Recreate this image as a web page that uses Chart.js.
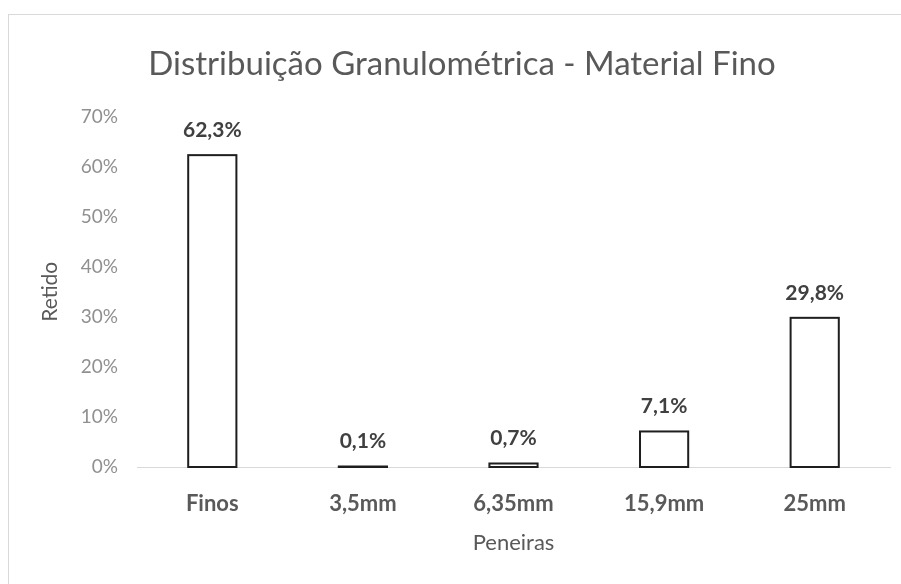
<!DOCTYPE html>
<html>
<head>
<meta charset="utf-8">
<script src="https://cdn.jsdelivr.net/npm/chart.js@4"></script>
<style>
  html, body { margin: 0; padding: 0; background: #fff; overflow: hidden; }
  #wrap { position: relative; width: 901px; height: 584px; overflow: hidden; }
  #frame {
    position: absolute; left: 8px; top: 14px; right: -20px; bottom: -20px;
    border-left: 1px solid #d9d9d9; border-top: 1px solid #d9d9d9;
  }
  canvas { position: absolute; left: 0; top: 0; }
</style>
</head>
<body>
<div id="wrap">
  <div id="frame"></div>
  <canvas id="chart" width="901" height="584"></canvas>
</div>
<script>
const peneiras = ['Finos', '3,5mm', '6,35mm', '15,9mm', '25mm'];
const retido = [62.3, 0.1, 0.7, 7.1, 29.8];
const yTicks = [0, 10, 20, 30, 40, 50, 60, 70];

const FONT = 'Lato, "Open Sans", sans-serif';

// outline each bar centred on its edge, so even tiny bars show as a dark line
const barOutline = {
  id: 'barOutline',
  afterDatasetsDraw(chart) {
    const ctx = chart.ctx;
    const meta = chart.getDatasetMeta(0);
    ctx.save();
    ctx.strokeStyle = '#1e1e1e';
    ctx.lineWidth = 2;
    meta.data.forEach(bar => {
      const w = bar.width;
      ctx.strokeRect(bar.x - w / 2, bar.y, w, bar.base - bar.y);
    });
    ctx.restore();
  }
};

// value labels above each bar, decimal comma
const valueLabels = {
  id: 'valueLabels',
  afterDatasetsDraw(chart) {
    const ctx = chart.ctx;
    const meta = chart.getDatasetMeta(0);
    ctx.save();
    ctx.font = 'bold 21px ' + FONT;
    ctx.fillStyle = '#404040';
    ctx.textAlign = 'center';
    ctx.textBaseline = 'middle';
    meta.data.forEach((bar, i) => {
      const txt = retido[i].toFixed(1).replace('.', ',') + '%';
      ctx.fillText(txt, bar.x, bar.y - 25);
    });
    ctx.restore();
  }
};

new Chart(document.getElementById('chart'), {
  type: 'bar',
  data: {
    labels: peneiras,
    datasets: [{
      data: retido,
      backgroundColor: '#ffffff',
      borderWidth: 0,
      categoryPercentage: 1,
      barPercentage: 0.32
    }]
  },
  options: {
    responsive: false,
    animation: false,
    layout: { padding: { left: 34, right: 11, top: 40, bottom: 0 } },
    plugins: {
      legend: { display: false },
      tooltip: { enabled: false },
      title: {
        display: true,
        text: 'Distribuição Granulométrica - Material Fino',
        color: '#595959',
        font: { family: FONT, size: 33, weight: 'normal' },
        padding: { top: 5, bottom: 32 }
      }
    },
    scales: {
      x: {
        grid: { display: false },
        border: { display: true, color: '#d9d9d9', width: 1 },
        ticks: {
          color: '#595959',
          font: { family: FONT, size: 22, weight: 'bold' },
          padding: 16
        },
        title: {
          display: true,
          text: 'Peneiras',
          color: '#595959',
          font: { family: FONT, size: 22 },
          padding: { top: 0, bottom: 28 }
        },
        afterFit(scale) { scale.height = 117; }
      },
      y: {
        min: 0,
        max: 70,
        afterBuildTicks(scale) { scale.ticks = yTicks.map(v => ({ value: v })); },
        grid: { display: false, drawTicks: false },
        border: { display: false },
        ticks: {
          color: '#909090',
          font: { family: FONT, size: 19 },
          padding: 19,
          callback: v => v + '%'
        },
        title: {
          display: true,
          text: 'Retido',
          color: '#595959',
          font: { family: FONT, size: 21 },
          padding: { top: 4, bottom: 0 }
        },
        afterFit(scale) { scale.width = 103; }
      }
    }
  },
  plugins: [barOutline, valueLabels]
});
</script>
</body>
</html>
